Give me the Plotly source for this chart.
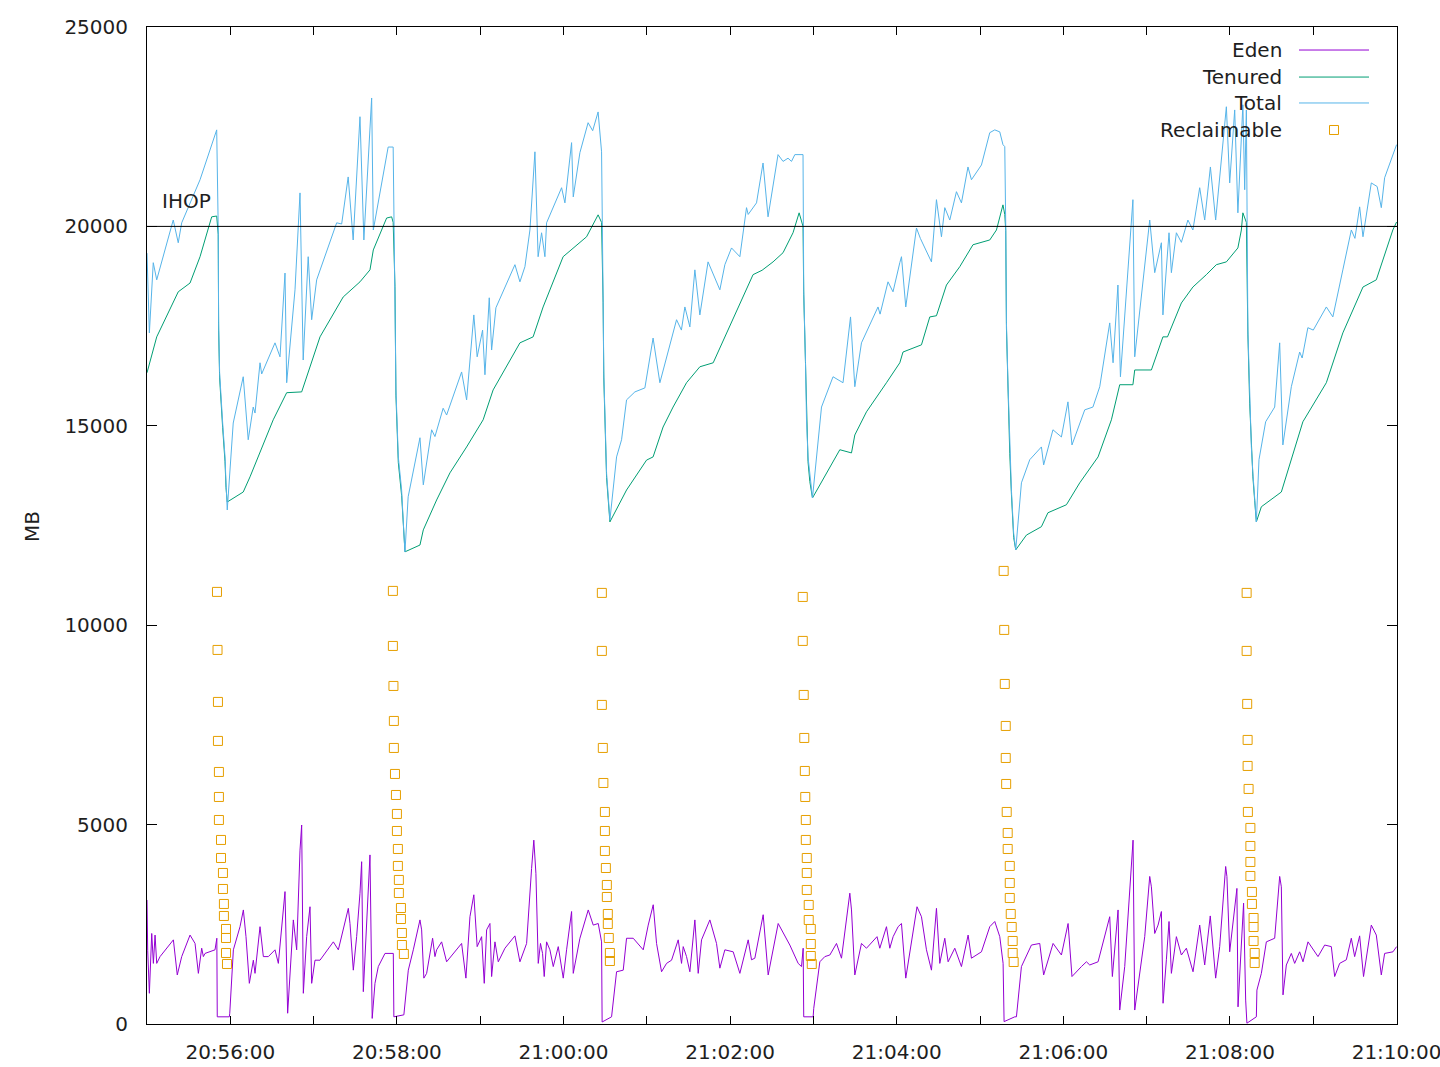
import pandas as pd
import plotly.graph_objects as go

# ---------------- data (seconds after 20:55:00, MB) ----------------
total_t = [0, 1.7, 4.5, 7.0, 18.9, 22.5, 25.0, 38.2, 50.2, 51.3, 51.6, 52.3, 54.5, 56.2, 56.9, 57.8,
           62.1, 69.3, 72.9, 76.5, 77.8, 81.4, 82.6, 92.2, 95.8, 99.4, 100.6, 106.6, 110.2, 112.5, 116.1, 118.6,
           122.2, 136.6, 140.2, 144.9, 148.5, 153.4, 156.2, 161.8, 163.0, 173.7, 177.3,
           178.6, 179.3, 181.0, 183.4, 185.0, 185.8,
           188.1, 196.6, 199.0, 205.0, 207.4, 213.3, 215.8, 226.6, 230.2, 235.4, 237.8, 241.7, 243.4, 246.5,
           248.2, 251.3, 265.0, 268.6, 272.2, 275.8, 279.4, 281.7, 284.2, 286.6, 287.8, 298.6, 301.0, 305.8,
           307.0, 311.8, 317.7, 321.0, 324.9, 327.4,
           328.5, 329.0, 331.0, 333.4,
           338.2, 341.8, 345.4, 351.4, 358.6, 364.5, 369.4, 381.4, 384.9, 387.4, 391.0, 394.6, 398.2, 404.1,
           412.6, 416.2, 421.0, 427.0, 431.8, 433.0, 439.0, 443.7, 447.3, 454.5, 458.1, 461.7, 464.2, 466.6, 472.5,
           473.0, 474.3, 475.0, 476.1, 477.4, 479.3,
           485.8, 494.1, 501.3, 506.7, 509.8, 514.6, 526.5, 528.0, 533.7, 537.3, 542.2, 543.4, 546.5, 554.2,
           557.0, 565.0, 568.6, 572.2, 574.6, 578.2, 583.0, 586.6, 591.3, 593.8, 601.0, 607.0, 610.6, 614.2,
           616.5, 617.8,
           618.5, 619.0, 620.1, 621.4, 622.6, 624.2, 625.7,
           629.8, 635.8, 644.2, 645.8, 652.5, 658.6, 663.3, 666.2, 675.4, 681.3, 686.2, 693.4, 695.8, 699.3,
           701.1, 710.1, 711.4, 722.2, 725.8, 730.6, 731.7, 736.1, 737.8, 741.4, 745.0, 749.7, 753.3, 758.2,
           761.8, 765.9, 769.7, 777.4, 779.8, 783.4, 785.7, 789.3, 790.6, 791.8,
           792.9, 794.2, 795.4, 796.5, 797.8, 799.0,
           800.9, 805.7, 812.2, 815.8, 818.1, 824.2, 830.2, 832.0, 836.1, 840.0, 849.4, 854.1, 861.3, 867.4,
           870.0, 873.4, 875.8, 881.8, 886.0, 889.0, 891.4, 900.0]
total_mb = [19330, 17330, 19090, 18660, 20160, 19590, 20090, 21170, 22420, 19960, 17580, 16330, 15070, 14220, 13570, 12890,
            15070, 16230, 14650, 15470, 15320, 16580, 16300, 17080, 16730, 18830, 16080, 18410, 20840, 16650, 19240, 17660,
            18660, 20090, 20060, 21240, 19660, 22750, 19660, 23220, 19910, 21990, 21990,
            18660, 15900, 14220, 13390, 12310, 11840,
            13220, 14700, 13520, 14900, 14730, 15440, 15270, 16350, 15650, 17780, 16730, 17400, 16280, 18210,
            16900, 17960, 19040, 18610, 18990, 19910, 21870, 19240, 19840, 19240, 20090, 20970, 20590, 22100,
            20740, 21850, 22600, 22400, 22870, 21870,
            18230, 16330, 13820, 12640,
            14220, 14650, 15650, 15850, 15950, 17200, 16080, 17660, 17400, 17980, 17480, 18910, 17780, 19110,
            18410, 19040, 19460, 19240, 20470, 20300, 20590, 21590, 20240, 21800, 21630, 21710, 21630, 21800, 21800,
            18400, 16580, 15150, 14220, 13720, 13190,
            15470, 16230, 16080, 17730, 15980, 17080, 17980, 17800, 18610, 18360, 19090, 19240, 17980, 19960,
            19700, 19110, 20670, 19740, 20470, 20160, 20870, 20590, 21490, 21170, 21540, 22350, 22420, 22370,
            22050, 22000,
            20000, 17580, 16080, 14400, 13390, 12310, 11890,
            13570, 14150, 14470, 14020, 14900, 14720, 15600, 14520, 15400, 15470, 15980, 17580, 16580, 18530,
            16230, 20670, 16730, 20160, 18840, 19590, 17780, 19840, 18840, 19840, 19600, 20160, 19910, 20970,
            20160, 21490, 20160, 23000, 21090, 22920, 20340, 23050, 20920, 22920,
            17400, 15650, 14470, 13820, 13220, 12590,
            14150, 15100, 15470, 17080, 14520, 15980, 16850, 16700, 17460, 17400, 17980, 17730, 18910, 19910,
            19700, 20490, 19740, 21090, 21000, 20470, 21220, 22050]

tenured_t = [0, 7.0, 22.5, 31.0, 38.2, 46.6, 50.2, 51.3, 51.6, 52.3, 54.5, 56.2, 56.9, 57.8,
             69.3, 74.2, 90.9, 100.6, 111.4, 119.7, 124.6, 141.3, 153.4, 160.6, 163.0, 172.6, 176.2, 177.3,
             178.6, 179.3, 181.0, 183.4, 185.0, 185.8,
             196.6, 199.0, 208.6, 218.2, 230.2, 242.1, 249.3, 268.6, 278.1, 285.3, 299.7, 316.6, 324.9, 327.4,
             328.5, 329.0, 331.0, 333.4,
             345.4, 359.8, 364.5, 371.7, 378.9, 388.6, 398.2, 407.8, 412.6, 427.0, 436.5, 443.0, 450.9, 458.1,
             465.3, 469.7, 472.5,
             473.0, 474.3, 475.0, 476.1, 477.4, 479.3,
             499.0, 507.4, 509.8, 518.2, 532.6, 542.2, 544.5, 557.8, 563.8, 568.6, 575.8, 585.4, 594.9, 607.0,
             611.8, 616.5, 617.8,
             618.5, 619.0, 620.1, 621.4, 622.6, 624.2, 625.7,
             633.4, 644.2, 648.9, 662.2, 671.8, 685.0, 694.6, 700.6, 710.1, 711.4, 723.4, 731.7, 735.0, 745.0,
             753.3, 763.0, 770.2, 777.4, 785.7, 788.2, 789.3, 791.8,
             792.9, 794.2, 795.4, 796.5, 797.8, 799.0,
             802.6, 817.0, 832.5, 849.4, 861.3, 875.8, 885.4, 897.3, 900.0]
tenured_mb = [16330, 17230, 18360, 18580, 19240, 20240, 20260, 19800, 17400, 16200, 14950, 14100, 13450, 13090,
              13340, 13720, 15150, 15830, 15850, 16730, 17230, 18230, 18610, 18910, 19410, 20210, 20240, 20100,
              18500, 15750, 14080, 13250, 12200, 11840,
              12010, 12390, 13140, 13820, 14470, 15150, 15900, 17080, 17230, 17980, 19240, 19740, 20290, 20100,
              18100, 16200, 13700, 12590,
              13390, 14140, 14220, 14970, 15470, 16080, 16480, 16580, 16950, 18080, 18790, 18900, 19110, 19340,
              19840, 20340, 20000,
              18300, 16450, 15050, 14100, 13600, 13190,
              14400, 14320, 14770, 15350, 16080, 16580, 16850, 17030, 17730, 17760, 18530, 18990, 19540, 19660,
              19910, 20540, 20300,
              19900, 17450, 15950, 14300, 13280, 12200, 11890,
              12260, 12470, 12820, 13020, 13570, 14220, 15150, 16030, 16030, 16400, 16400, 17230, 17230, 18080,
              18480, 18790, 19040, 19110, 19460, 19910, 20340, 20100,
              17300, 15550, 14370, 13720, 13120, 12590,
              12970, 13340, 15100, 16080, 17330, 18480, 18660, 19910, 20110]

eden_t = [0, 0.5, 1.7, 3.4, 4.6, 5.8, 7.0, 9.4, 19.0, 21.8, 25.0, 31.0, 34.6, 37.0, 39.4, 40.6, 41.8, 49.0,
          50.3, 50.6, 59.3, 59.6, 62.2, 67.0, 69.4, 71.3, 73.7, 76.6, 77.8, 81.4, 83.8, 87.4, 92.2, 94.6, 99.4,
          101.3, 105.4, 107.8, 110.2, 111.4, 112.6, 115.0, 117.4, 118.6, 121.0, 124.6, 134.2, 137.8, 145.0,
          146.2, 148.6, 151.0, 153.4, 154.6, 155.8, 158.2, 160.6, 162.2, 164.2, 166.6, 171.4, 177.4, 177.8,
          185.0, 188.2, 191.8, 196.6, 197.8, 199.4, 201.4, 205.7, 207.4, 208.6, 212.2, 215.8, 226.6, 229.7,
          232.6, 235.4, 237.8, 241.0, 242.9, 244.6, 247.0, 248.2, 250.6, 253.0, 257.8, 265.0, 268.6, 273.4,
          277.0, 278.6, 280.1, 281.8, 283.4, 284.9, 286.1, 287.8, 290.2, 292.6, 296.2, 299.8, 302.2, 305.8,
          307.0, 311.8, 317.8, 321.4, 325.0, 327.4, 327.8, 334.6, 338.2, 343.0, 345.4, 350.2, 357.4, 361.0,
          364.6, 367.0, 370.6, 374.2, 377.8, 382.6, 385.0, 386.2, 388.6, 391.0, 394.6, 397.0, 399.4, 405.4,
          410.2, 412.6, 416.2, 422.2, 427.0, 433.0, 435.4, 437.8, 443.8, 447.4, 454.6, 463.0, 469.0, 471.4,
          472.6, 473.0, 479.8, 480.2, 484.6, 488.2, 491.8, 496.6, 500.2, 506.2, 507.4, 509.8, 514.6, 518.2,
          525.8, 527.8, 532.6, 535.0, 537.4, 541.0, 543.4, 546.5, 554.6, 557.8, 561.4, 565.0, 568.6, 571.0,
          574.6, 577.0, 581.8, 586.6, 591.4, 593.8, 601.0, 607.0, 610.6, 614.2, 616.6, 617.3, 625.0, 626.2,
          629.8, 637.0, 643.0, 645.8, 652.6, 658.6, 663.4, 666.2, 673.0, 676.6, 679.0, 685.0, 693.4, 695.3,
          699.4, 700.6, 704.2, 710.2, 711.4, 715.0, 718.6, 722.2, 723.4, 725.8, 728.2, 730.6, 731.8, 734.2,
          736.1, 737.8, 741.4, 745.0, 748.6, 753.4, 758.2, 761.8, 765.8, 769.7, 772.6, 776.9, 777.8, 779.8,
          785.0, 785.8, 788.2, 789.8, 791.3, 792.2, 799.0, 799.4, 802.6, 806.2, 812.2, 815.8, 817.0, 818.2,
          820.6, 824.2, 826.6, 830.2, 832.6, 836.2, 843.4, 848.2, 853.0, 855.4, 859.0, 863.8, 867.4, 869.8,
          873.4, 876.2, 881.8, 885.4, 889.0, 891.4, 897.4, 900.0]
eden_mb = [3110, 1850, 770, 2270, 1520, 2230, 1520, 1690, 2110, 1230, 1690, 2230, 2020, 1270, 1900, 1690, 1770, 1860,
           2150, 180, 180, 270, 1860, 2440, 2860, 2190, 1020, 1600, 1270, 2440, 1690, 1690, 1860, 1520, 3320,
           270, 2610, 1860, 4360, 4990, 770, 2190, 2940, 1020, 1600, 1600, 2060, 1860, 2900,
           2520, 1350, 2190, 3280, 4070, 810, 2610, 4240, 140, 1020, 1440, 1770, 1770, 180,
           230, 1350, 1860, 2610, 2360, 1150, 1270, 2150, 1690, 1860, 2060, 1560, 2020, 1150,
           2690, 3240, 1940, 2190, 1020, 2360, 2520, 1190, 2060, 1560, 1900, 2210, 1560, 2020,
           3900, 4610, 3780, 1520, 2020, 1770, 1190, 2060, 1860, 1440, 1940, 1150, 1860, 2820,
           1270, 2150, 2860, 2480, 2520, 2060, 50, 180, 1310, 1350, 2150, 2150, 1860, 2480,
           2990, 2020, 1310, 1520, 1600, 2110, 1520, 1940, 1690, 1310, 2610, 1270, 2110, 2610,
           2020, 1400, 1860, 1810, 1270, 2110, 1610, 1650, 2740, 1230, 2520, 1980, 1520, 1440,
           1900, 180, 180, 390, 1560, 1690, 1730, 2020, 1650, 3280, 2860, 1230, 2020, 1900,
           2190, 1900, 2440, 1900, 2190, 2440, 2520, 1150, 2940, 2690, 1860, 1350, 2900, 1520,
           2150, 1560, 1900, 1440, 2230, 1650, 1810, 2440, 2570, 2190, 1520, 60, 180, 180,
           1440, 1980, 2020, 1230, 2020, 1730, 2520, 1190, 1440, 1560, 1480, 1560, 2690, 1190,
           2860, 350, 1440, 4610, 350, 1270, 2190, 3700, 3440, 2270, 2480, 2820, 520, 1610,
           2570, 1270, 2190, 1730, 1900, 1310, 2480, 1480, 2710, 1150, 1940, 3950, 3700, 1810,
           3400, 430, 2020, 3030, 600, 20, 180, 850, 1270, 2060, 2150, 3700, 3440, 730,
           1480, 1770, 1520, 1810, 1560, 2060, 1690, 1980, 1940, 1190, 1520, 1610, 2150, 1690,
           2210, 1190, 2480, 2230, 1230, 1770, 1810, 1940]

recl_t = [50.4, 50.8, 51.1, 51.1, 51.8, 51.8, 51.8, 53.3, 53.3, 54.7, 54.7, 55.4, 55.4, 56.9, 56.9, 56.9, 57.6,
          177.1, 177.1, 177.5, 177.8, 177.8, 178.6, 179.3, 180.0, 180.0, 180.7, 180.7, 181.4, 181.4, 182.9, 182.9, 183.6, 183.6, 185.0,
          327.6, 327.6, 327.6, 328.3, 328.7, 329.8, 329.8, 329.8, 330.5, 331.2, 331.2, 331.9, 331.9, 332.6, 333.4, 333.4,
          472.3, 472.3, 473.0, 473.4, 473.8, 474.1, 474.5, 474.5, 475.2, 475.2, 475.2, 476.6, 476.6, 478.1, 478.1, 478.1, 478.8,
          617.0, 617.4, 617.8, 618.5, 618.5, 618.8, 619.2, 619.9, 619.9, 621.4, 621.4, 621.4, 622.1, 622.8, 623.5, 623.5, 624.2,
          792.0, 792.0, 792.4, 792.7, 792.7, 793.4, 792.9, 794.7, 794.7, 794.7, 794.7, 795.8, 795.8, 797.0, 797.0, 797.0, 797.8, 797.8]
recl_mb = [10835, 9380, 8076, 7098, 6320, 5693, 5116, 4615, 4163, 3787, 3386, 3010, 2709, 2383, 2157, 1781, 1505,
           10860, 9480, 8477, 7599, 6922, 6270, 5743, 5267, 4840, 4389, 3963, 3612, 3285, 2909, 2633, 2282, 1981, 1756,
           10810, 9355, 8001, 6922, 6044, 5317, 4840, 4339, 3912, 3486, 3185, 2759, 2508, 2157, 1781, 1580,
           10709, 9606, 8251, 7173, 6345, 5693, 5116, 4615, 4163, 3787, 3361, 2985, 2608, 2383, 2006, 1705, 1505,
           11361, 9882, 8527, 7474, 6671, 6019, 5317, 4790, 4389, 3963, 3536, 3160, 2759, 2433, 2082, 1781, 1555,
           10810, 9355, 8026, 7123, 6471, 5894, 5317, 4916, 4464, 4063, 3712, 3311, 3010, 2658, 2433, 2082, 1781, 1530]

ihop_mb = 20000
y_ticks = [0, 5000, 10000, 15000, 20000, 25000]
minute_ticks = list(range(0, 16))      # minutes after 20:55:00
series_names = ["Eden", "Tenured", "Total", "Reclaimable"]
colors = ["#9400d3", "#009e73", "#56b4e9", "#e69f00"]

# ---------------- figure ----------------
base = pd.Timestamp("2017-01-01 20:55:00")
def tx(sec):
    return base + pd.to_timedelta(pd.Series(sec, dtype=float), unit="s")

FONT = "DejaVu Sans"
TXT = "#1e1e1e"

fig = go.Figure()
fig.add_trace(go.Scatter(x=tx(eden_t), y=eden_mb, mode="lines", line=dict(color=colors[0], width=1),
                         name=series_names[0], showlegend=False))
fig.add_trace(go.Scatter(x=tx(tenured_t), y=tenured_mb, mode="lines", line=dict(color=colors[1], width=1),
                         name=series_names[1], showlegend=False))
fig.add_trace(go.Scatter(x=tx(total_t), y=total_mb, mode="lines", line=dict(color=colors[2], width=1),
                         name=series_names[2], showlegend=False))
fig.add_trace(go.Scatter(x=tx(recl_t), y=recl_mb, mode="markers",
                         marker=dict(symbol="square-open", size=9, color=colors[3], line=dict(width=1)),
                         name=series_names[3], showlegend=False))

# IHOP line + label
fig.add_shape(type="line", xref="paper", x0=0, x1=1, yref="y", y0=ihop_mb, y1=ihop_mb,
              line=dict(color="black", width=1))
fig.add_annotation(x=tx([9.4])[0], y=20640, text="IHOP", showarrow=False, xanchor="left", yanchor="middle",
                   font=dict(family=FONT, size=20, color=TXT))

# manual gnuplot-style legend (text right, sample left)
leg_rows = [0.9769, 0.9498, 0.9238, 0.8967]
for i, nm in enumerate(series_names):
    fig.add_annotation(xref="paper", yref="paper", x=0.9096, y=leg_rows[i], text=nm, showarrow=False,
                       xanchor="right", yanchor="middle", font=dict(family=FONT, size=20, color=TXT))
    if i < 3:
        fig.add_shape(type="line", xref="paper", yref="paper", x0=0.9216, x1=0.9776,
                      y0=leg_rows[i], y1=leg_rows[i], line=dict(color=colors[i], width=1))
    else:
        cx, cy = 0.9496, leg_rows[i]
        fig.add_shape(type="rect", xref="paper", yref="paper", x0=cx - 4.5 / 1250, x1=cx + 4.5 / 1250,
                      y0=cy - 4.5 / 997, y1=cy + 4.5 / 997, line=dict(color=colors[3], width=1))

# MB label
fig.add_annotation(xref="paper", yref="paper", x=0, y=0.4985, xshift=-129, text="MB", showarrow=False,
                   textangle=-90, font=dict(family=FONT, size=20, color=TXT))

tickvals = [base + pd.Timedelta(minutes=m) for m in minute_ticks]
ticktext = [(v.strftime("%H:%M:%S") if v.minute % 2 == 0 else "") for v in tickvals]

fig.update_layout(
    width=1440, height=1067,
    margin=dict(l=147, r=43, t=27, b=43, autoexpand=False),
    paper_bgcolor="white", plot_bgcolor="white",
    font=dict(family=FONT, size=20, color=TXT),
    showlegend=False,
)
fig.update_xaxes(type="date", range=[base, base + pd.Timedelta(seconds=900.3)], automargin=False,
                 tickmode="array", tickvals=tickvals, ticktext=ticktext, ticklabeloverflow="allow",
                 ticks="inside", ticklen=8, tickwidth=1, tickcolor="black",
                 showline=True, linecolor="black", linewidth=1, mirror="ticks",
                 showgrid=False, zeroline=False, ticklabelstandoff=10,
                 tickfont=dict(family=FONT, size=20, color=TXT))
fig.update_yaxes(range=[0, 25000], tickmode="array", tickvals=y_ticks, automargin=False,
                 ticktext=[str(v) for v in y_ticks], ticklabeloverflow="allow",
                 ticks="inside", ticklen=10, tickwidth=1, tickcolor="black",
                 showline=True, linecolor="black", linewidth=1, mirror="ticks",
                 showgrid=False, zeroline=False, ticklabelstandoff=14,
                 tickfont=dict(family=FONT, size=20, color=TXT))

fig.write_html("out.html", config={"displayModeBar": False},
               post_script="document.body.style.margin='0px';document.body.style.overflow='hidden';")
